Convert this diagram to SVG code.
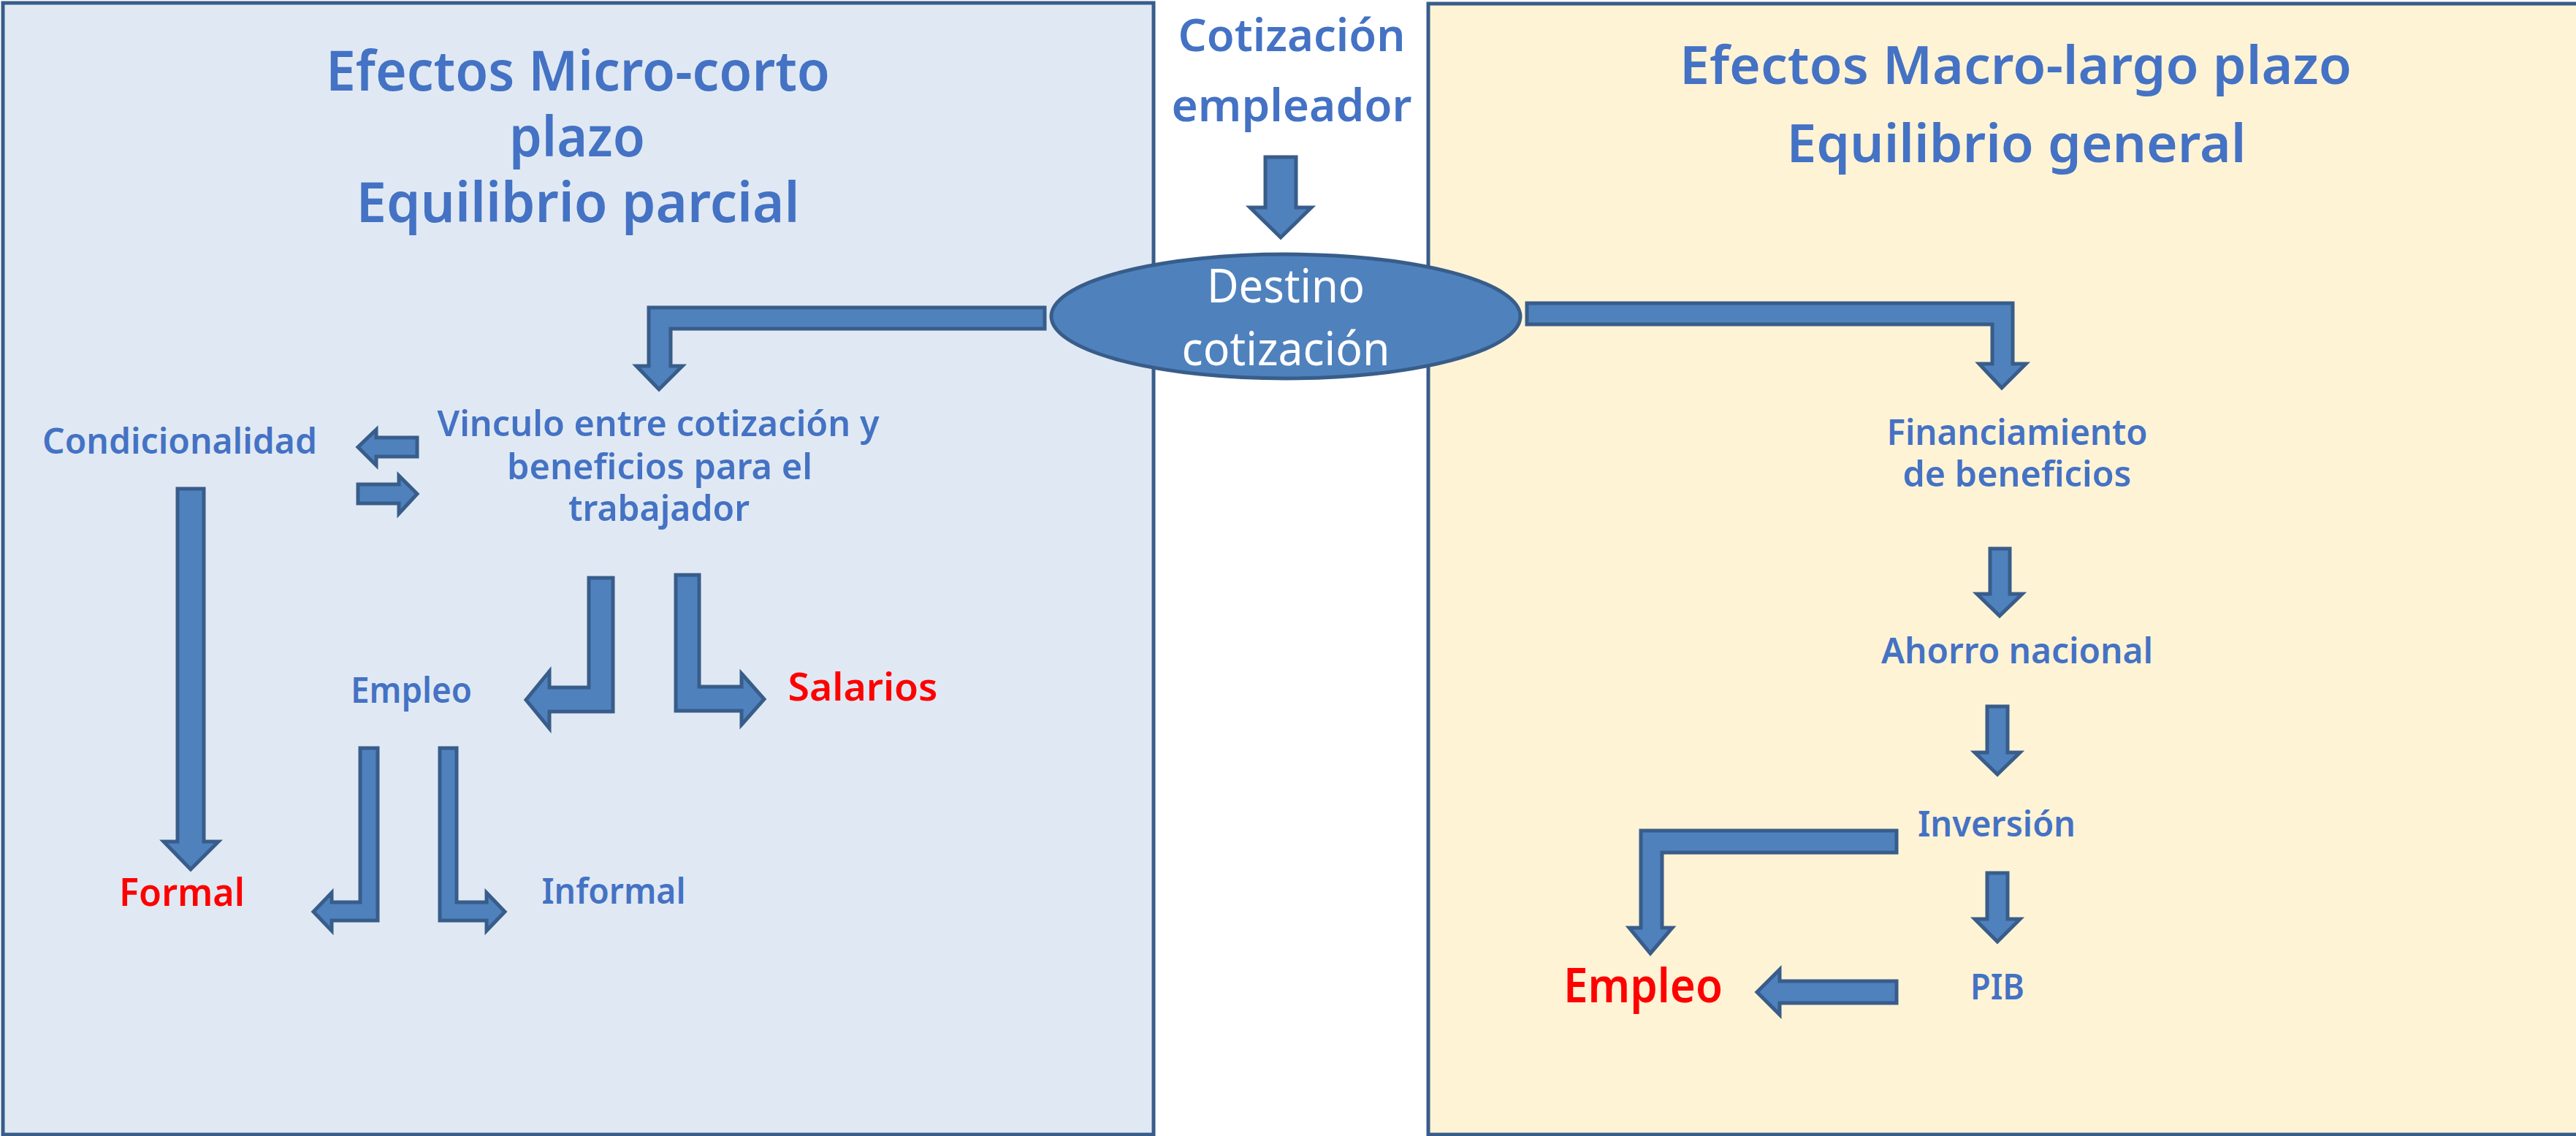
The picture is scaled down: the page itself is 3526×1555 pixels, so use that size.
<svg xmlns="http://www.w3.org/2000/svg" width="3526" height="1555" viewBox="0 0 3526 1555">
<style>
.t{font-family:"Noto Sans","Open Sans","Liberation Sans",sans-serif;fill:#4472C4;font-weight:600;text-anchor:middle}
.red{fill:#FF0000}
.w{fill:#FFFFFF;font-weight:400}
.arr{fill:#4F81BD;stroke:#385D8A;stroke-width:5;stroke-linejoin:miter}
.box{stroke:#385D8A;stroke-width:5}
</style>
<rect width="3526" height="1555" fill="#FFFFFF"/>
<g id="panel-micro">
<rect class="box" x="4" y="4" width="1575" height="1549" fill="#E0E9F3"/>
<text class="t" x="791" y="124" font-size="75" textLength="690" lengthAdjust="spacingAndGlyphs">Efectos Micro-corto</text>
<text class="t" x="790" y="214" font-size="75" textLength="186" lengthAdjust="spacingAndGlyphs">plazo</text>
<text class="t" x="791" y="304" font-size="75" textLength="607" lengthAdjust="spacingAndGlyphs">Equilibrio parcial</text>
</g>
<g id="panel-macro">
<rect class="box" x="1955" y="5" width="1600" height="1548" fill="#FFF3D6"/>
<text class="t" x="2759" y="115" font-size="73" textLength="920" lengthAdjust="spacingAndGlyphs">Efectos Macro-largo plazo</text>
<text class="t" x="2760" y="222" font-size="73" textLength="629" lengthAdjust="spacingAndGlyphs">Equilibrio general</text>
</g>
<g id="cotizacion-empleador">
<text class="t" x="1768" y="70" font-size="62" textLength="311" lengthAdjust="spacingAndGlyphs">Cotización</text>
<text class="t" x="1768" y="166" font-size="62" textLength="329" lengthAdjust="spacingAndGlyphs">empleador</text>
</g>
<g id="connectors">
<polygon class="arr" points="1732,215 1774,215 1774,284 1795,284 1753,325 1711,284 1732,284"/>
<polygon class="arr" points="1430,421 888,421 888,501 871,501 902,533 934,501 918,501 918,450 1430,450"/>
<polygon class="arr" points="2090,415 2755,415 2755,498 2773,498 2740,531 2709,498 2727,498 2727,444 2090,444"/>
<polygon class="arr" points="571,599 515,599 515,588 490,612 515,637 515,625 571,625"/>
<polygon class="arr" points="490,663 546,663 546,651 571,676 546,703 546,689 490,689"/>
<polygon class="arr" points="243,669 279,669 279,1152 299,1152 261,1190 224,1152 243,1152"/>
<polygon class="arr" points="806,791 839,791 839,974 752,974 752,997 720,958 752,919 752,941 806,941"/>
<polygon class="arr" points="925,787 957,787 957,940 1015,940 1015,922 1046,957 1015,992 1015,973 925,973"/>
<polygon class="arr" points="493,1024 517,1024 517,1260 454,1260 454,1274 429,1248 454,1222 454,1235 493,1235"/>
<polygon class="arr" points="602,1024 625,1024 625,1235 666,1235 666,1222 691,1248 666,1274 666,1260 602,1260"/>
<polygon class="arr" points="2724,751 2751,751 2751,813 2768,813 2737,843 2706,813 2724,813"/>
<polygon class="arr" points="2720,967 2748,967 2748,1030 2765,1030 2734,1060 2703,1030 2720,1030"/>
<polygon class="arr" points="2720,1195 2748,1195 2748,1258 2765,1258 2734,1289 2703,1258 2720,1258"/>
<polygon class="arr" points="2596,1137 2246,1137 2246,1270 2230,1270 2259,1305 2289,1270 2275,1270 2275,1167 2596,1167"/>
<polygon class="arr" points="2596,1343 2436,1343 2436,1327 2405,1358 2436,1389 2436,1373 2596,1373"/>
</g>
<g id="destino-cotizacion">
<ellipse cx="1760" cy="433" rx="321" ry="85" fill="#4F81BD" stroke="#385D8A" stroke-width="5"/>
<text class="t w" x="1760" y="414" font-size="63" textLength="216" lengthAdjust="spacingAndGlyphs">Destino</text>
<text class="t w" x="1760" y="500" font-size="63" textLength="285" lengthAdjust="spacingAndGlyphs">cotización</text>
</g>
<g id="condicionalidad">
<text class="t" x="246" y="621" font-size="48" textLength="376" lengthAdjust="spacingAndGlyphs">Condicionalidad</text>
</g>
<g id="vinculo">
<text class="t" x="901" y="597" font-size="48" textLength="605" lengthAdjust="spacingAndGlyphs">Vinculo entre cotización y</text>
<text class="t" x="903" y="656" font-size="48" textLength="418" lengthAdjust="spacingAndGlyphs">beneficios para el</text>
<text class="t" x="902" y="713" font-size="48" textLength="248" lengthAdjust="spacingAndGlyphs">trabajador</text>
</g>
<g id="empleo-micro">
<text class="t" x="563" y="962" font-size="48" textLength="166" lengthAdjust="spacingAndGlyphs">Empleo</text>
</g>
<g id="salarios">
<text class="t red" x="1181" y="959" font-size="53" textLength="205" lengthAdjust="spacingAndGlyphs">Salarios</text>
</g>
<g id="formal">
<text class="t red" x="249" y="1240" font-size="53" textLength="172" lengthAdjust="spacingAndGlyphs">Formal</text>
</g>
<g id="informal">
<text class="t" x="840" y="1237" font-size="48" textLength="197" lengthAdjust="spacingAndGlyphs">Informal</text>
</g>
<g id="financiamiento">
<text class="t" x="2761" y="609" font-size="48" textLength="357" lengthAdjust="spacingAndGlyphs">Financiamiento</text>
<text class="t" x="2761" y="666" font-size="48" textLength="313" lengthAdjust="spacingAndGlyphs">de beneficios</text>
</g>
<g id="ahorro">
<text class="t" x="2761" y="908" font-size="48" textLength="372" lengthAdjust="spacingAndGlyphs">Ahorro nacional</text>
</g>
<g id="inversion">
<text class="t" x="2733" y="1145" font-size="48" textLength="216" lengthAdjust="spacingAndGlyphs">Inversión</text>
</g>
<g id="pib">
<text class="t" x="2734" y="1368" font-size="48" textLength="74" lengthAdjust="spacingAndGlyphs">PIB</text>
</g>
<g id="empleo-macro">
<text class="t red" x="2249" y="1372" font-size="65" font-weight="700" textLength="218" lengthAdjust="spacingAndGlyphs">Empleo</text>
</g>
</svg>
